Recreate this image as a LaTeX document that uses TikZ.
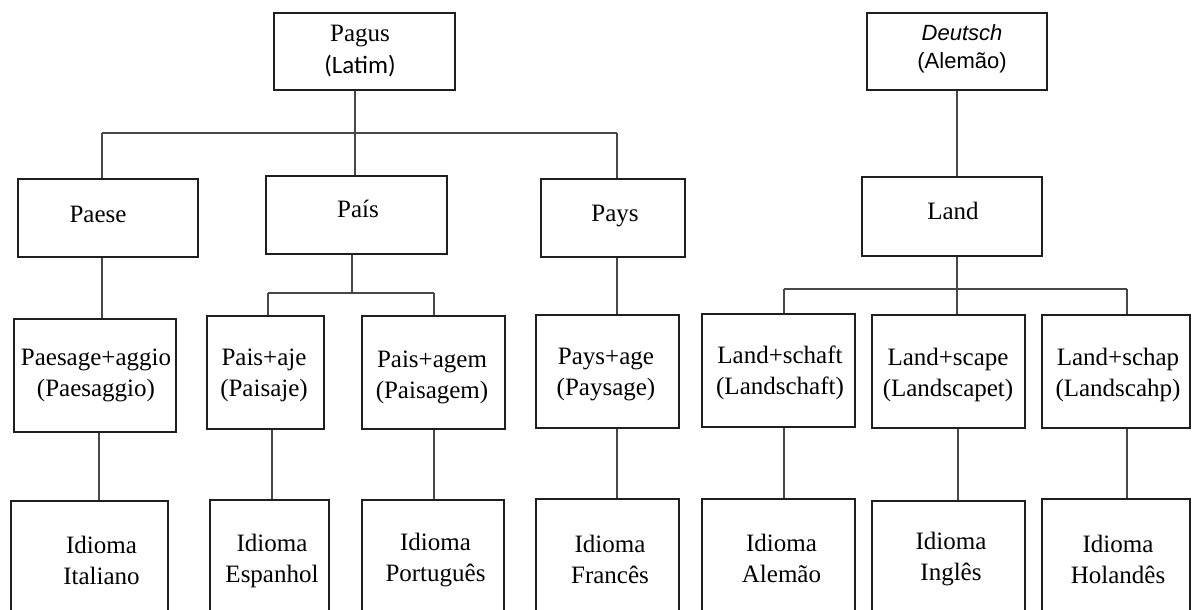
\documentclass[tikz,border=0pt]{standalone}
\usepackage{fontspec}
\setmainfont{Liberation Serif}
\newfontfamily\calibfont{Carlito}
\newfontfamily\arialfont{Liberation Sans}
\begin{document}
\begin{tikzpicture}[x=1pt,y=-1pt,
  box/.style={draw=black!88, line width=1.4pt, rectangle, inner sep=0pt},
  lbl/.style={inner sep=0pt, align=center, font=\fontsize{25}{31}\selectfont},
  link/.style={draw=black!72, line width=1.25pt}]
\useasboundingbox (0,0) rectangle (1192,610);
\clip (0,0) rectangle (1192,610);

% ---- boxes: top level
\node[box, minimum width=181pt, minimum height=77pt] (pagus)   at (364.5,51.5) {};
\node[box, minimum width=180pt, minimum height=77pt] (deutsch) at (957,51.5) {};
% ---- second level
\node[box, minimum width=180pt, minimum height=78pt] (paese) at (108,218) {};
\node[box, minimum width=181pt, minimum height=78pt] (pais)  at (356.5,215) {};
\node[box, minimum width=144pt, minimum height=78pt] (pays)  at (613,218) {};
\node[box, minimum width=180pt, minimum height=79pt] (land)  at (952,216.5) {};
% ---- third level
\node[box, minimum width=162pt, minimum height=113pt] (paesage)    at (95,375.5) {};
\node[box, minimum width=117pt, minimum height=113pt] (paisaje)    at (265.5,372.5) {};
\node[box, minimum width=143pt, minimum height=113pt] (paisagem)   at (433.5,372.5) {};
\node[box, minimum width=143pt, minimum height=113pt] (paysage)    at (607.5,371.5) {};
\node[box, minimum width=153pt, minimum height=113pt] (landschaft) at (778.5,370.5) {};
\node[box, minimum width=153pt, minimum height=113pt] (landscape)  at (948.5,371.5) {};
\node[box, minimum width=148pt, minimum height=113pt] (landschap)  at (1116,371.5) {};
% ---- languages (run past the lower edge)
\node[box, minimum width=157pt, minimum height=130pt] (italiano)  at (89.5,566) {};
\node[box, minimum width=119pt, minimum height=130pt] (espanhol)  at (269.5,565) {};
\node[box, minimum width=142pt, minimum height=130pt] (portugues) at (433,565) {};
\node[box, minimum width=143pt, minimum height=130pt] (frances)   at (607.5,564) {};
\node[box, minimum width=153pt, minimum height=130pt] (alemao)    at (778.5,564) {};
\node[box, minimum width=153pt, minimum height=130pt] (ingles)    at (948.5,566) {};
\node[box, minimum width=148pt, minimum height=130pt] (holandes)  at (1116,564) {};

% ---- texts
\node[lbl, font=\fontsize{25}{32}\selectfont] (tpagus) at (360,51) {Pagus\\{\calibfont (Latim)}};
\node[lbl, font=\arialfont\fontsize{22}{28}\selectfont] (tdeutsch) at (962,49) {\textit{Deutsch}\\(Alemão)};
\node[lbl] (tpaese) at (98,214) {Paese};
\node[lbl] (tpais)  at (358,209) {País};
\node[lbl] (tpays)  at (615,216) {Pays};
\node[lbl] (tland)  at (953,211) {Land};
\node[lbl] (tpaesage)    at (96,375.5) {Paesage+aggio\\(Paesaggio)};
\node[lbl] (tpaisaje)    at (264,375) {Pais+aje\\(Paisaje)};
\node[lbl] (tpaisagem)   at (432,377) {Pais+agem\\(Paisagem)};
\node[lbl] (tpaysage)    at (606,375) {Pays+age\\(Paysage)};
\node[lbl] (tlandschaft) at (780,373) {Land+schaft\\(Landschaft)};
\node[lbl] (tlandscape)  at (948,375) {Land+scape\\(Landscapet)};
\node[lbl] (tlandschap)  at (1118,375) {Land+schap\\(Landscahp)};
\node[lbl] (titaliano)  at (101.5,560.5) {Idioma\\Italiano};
\node[lbl] (tespanhol)  at (272,560.5) {Idioma\\Espanhol};
\node[lbl] (tportugues) at (435.5,560.5) {Idioma\\Português};
\node[lbl] (tfrances)   at (610,559.5) {Idioma\\Francês};
\node[lbl] (talemao)    at (781.5,558) {Idioma\\Alemão};
\node[lbl] (tingles)    at (951,559) {Idioma\\Inglês};
\node[lbl] (tholandes)  at (1118,559) {Idioma\\Holandês};

% ---- junctions of the branching lines
\coordinate (jA)  at (355,133);
\coordinate (jAl) at (102,133);
\coordinate (jAr) at (617,133);
\coordinate (jB)  at (352,293);
\coordinate (jBl) at (268,293);
\coordinate (jBr) at (434,293);
\coordinate (jC)  at (957,289);
\coordinate (jCl) at (784,289);
\coordinate (jCr) at (1127,289);

% ---- Latin branch
\draw[link] (pagus.south -| jA) -- (jA);
\draw[link] (jAl) -- (jAr);
\draw[link] (jAl) -- (paese.north -| jAl);
\draw[link] (jA) -- (pais.north -| jA);
\draw[link] (jAr) -- (pays.north -| jAr);
\draw[link] (pais.south -| jB) -- (jB);
\draw[link] (jBl) -- (jBr);
\draw[link] (jBl) -- (paisaje.north -| jBl);
\draw[link] (jBr) -- (paisagem.north -| jBr);
\draw[link] (paese.south -| jAl) -- (paesage.north -| jAl);
\draw[link] (pays.south -| jAr) -- (paysage.north -| jAr);
\draw[link] ([xshift=4pt]paesage.south) -- ([xshift=4pt]paesage.south |- italiano.north);
\draw[link] ([xshift=6.5pt]paisaje.south) -- ([xshift=6.5pt]paisaje.south |- espanhol.north);
\draw[link] (paisagem.south -| jBr) -- (portugues.north -| jBr);
\draw[link] (paysage.south -| jAr) -- (frances.north -| jAr);

% ---- Germanic branch
\draw[link] (deutsch.south) -- (land.north -| deutsch.south);
\draw[link] (land.south -| jC) -- (jC);
\draw[link] (jCl) -- (jCr);
\draw[link] (jCl) -- (landschaft.north -| jCl);
\draw[link] (jC) -- (landscape.north -| jC);
\draw[link] (jCr) -- (landschap.north -| jCr);
\draw[link] (landschaft.south -| jCl) -- (alemao.north -| jCl);
\draw[link] ([xshift=9.5pt]landscape.south) -- ([xshift=9.5pt]landscape.south |- ingles.north);
\draw[link] (landschap.south -| jCr) -- (holandes.north -| jCr);
\end{tikzpicture}
\end{document}
